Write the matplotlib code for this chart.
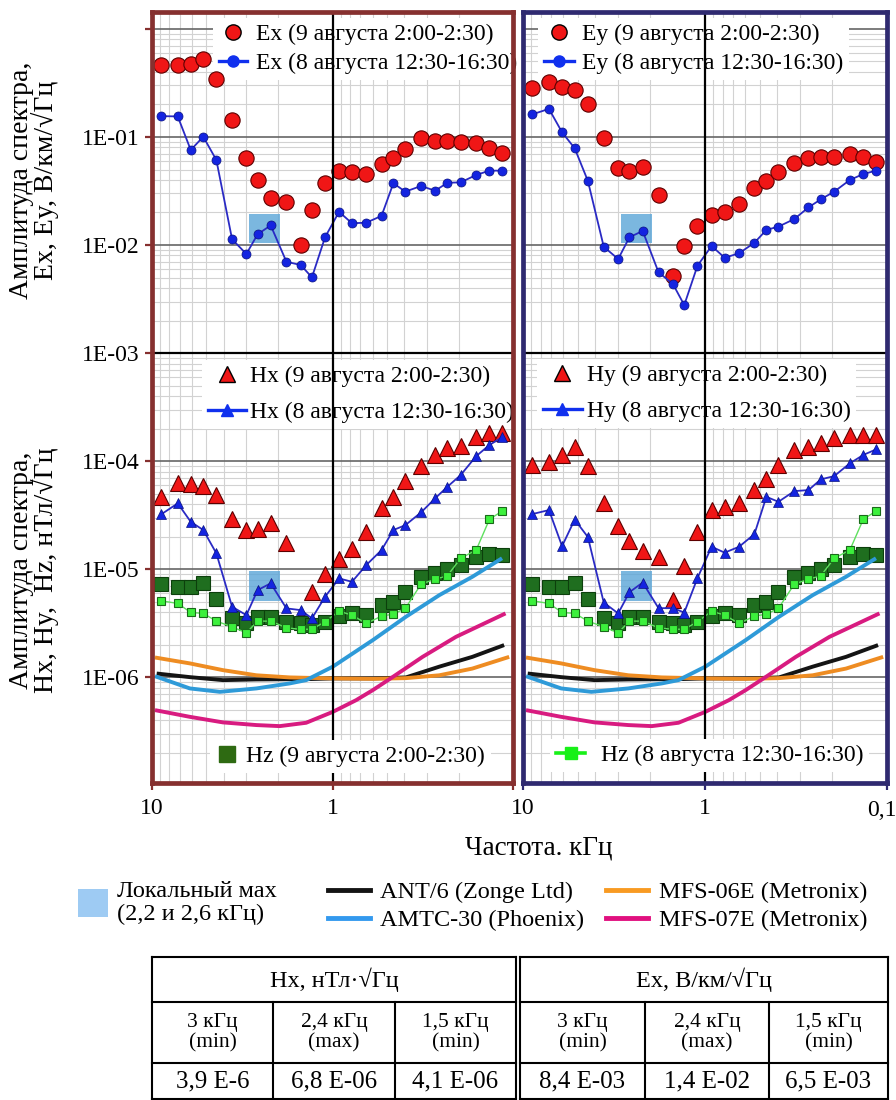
import matplotlib
matplotlib.use('Agg')
import matplotlib.pyplot as plt
import numpy as np
from matplotlib.lines import Line2D
from matplotlib.patches import Patch, Rectangle
from matplotlib.ticker import FixedLocator, FixedFormatter, LogLocator, NullFormatter

plt.rcParams['font.family'] = ['Liberation Serif', 'DejaVu Serif']

W, H = 896, 1100

#-------- data (frequency in kHz, amplitudes) --------#
freq = [8.9, 7.2, 6.1, 5.2, 4.4, 3.6, 3.0, 2.6, 2.2, 1.8, 1.5, 1.3, 1.1,
        0.92, 0.78, 0.65, 0.535, 0.46, 0.395, 0.323, 0.27, 0.231, 0.195,
        0.16, 0.135, 0.115]

ex_night = [0.464, 0.46, 0.476, 0.53, 0.344, 0.144, 0.0635, 0.040, 0.0274,
            0.0252, 0.0101, 0.0211, 0.0377, 0.0484, 0.0471, 0.0454, 0.0559,
            0.0635, 0.0769, 0.0973, 0.0924, 0.0924, 0.0905, 0.0874, 0.0796, 0.0706]
ex_day = [0.156, 0.155, 0.0758, 0.1006, 0.0612, 0.0113, 0.00826, 0.01257,
          0.0152, 0.0070, 0.00653, 0.00502, 0.01178, 0.0203, 0.0159, 0.0161,
          0.0186, 0.0373, 0.0312, 0.0352, 0.0318, 0.0377, 0.038, 0.0445, 0.0488, 0.0488]
ey_night = [0.283, 0.325, 0.289, 0.272, 0.201, 0.0973, 0.0513, 0.0488, 0.0531,
            0.0290, 0.00516, 0.00986, 0.0151, 0.0190, 0.0203, 0.0240, 0.0335,
            0.0392, 0.0477, 0.0571, 0.0635, 0.0657, 0.0657, 0.0691, 0.0657, 0.0583]
ey_day = [0.162, 0.182, 0.1105, 0.0786, 0.0392, 0.00964, 0.00742, 0.0118,
          0.0135, 0.00559, 0.00435, 0.00278, 0.00643, 0.0098, 0.00763, 0.00838,
          0.0105, 0.0138, 0.0148, 0.0174, 0.0223, 0.0265, 0.0312, 0.040, 0.0454, 0.0488]

hx_night = [4.67e-5, 6.30e-5, 6.12e-5, 5.87e-5, 4.84e-5, 2.88e-5, 2.30e-5, 2.33e-5,
            2.68e-5, 1.73e-5, 3.62e-6, 6.16e-6, 9.0e-6, 1.23e-5, 1.52e-5, 2.22e-5,
            3.65e-5, 4.67e-5, 6.53e-5, 8.99e-5, 1.13e-4, 1.31e-4, 1.38e-4, 1.68e-4,
            1.80e-4, 1.83e-4]
hx_day = [3.21e-5, 4.06e-5, 2.74e-5, 2.30e-5, 1.40e-5, 4.48e-6, 3.75e-6, 6.39e-6,
          7.38e-6, 4.33e-6, 4.17e-6, 3.50e-6, 5.54e-6, 8.20e-6, 7.63e-6, 1.09e-5,
          1.50e-5, 2.30e-5, 2.55e-5, 3.35e-5, 4.52e-5, 5.78e-5, 7.42e-5, 1.11e-4,
          1.41e-4, 1.66e-4]
hy_night = [9.18e-5, 9.73e-5, 1.14e-4, 1.36e-4, 8.99e-5, 4.06e-5, 2.52e-5, 1.82e-5,
            1.47e-5, 1.30e-5, 5.16e-6, 1.07e-5, 2.22e-5, 3.52e-5, 3.78e-5, 4.06e-5,
            5.39e-5, 6.77e-5, 9.18e-5, 1.26e-4, 1.36e-4, 1.48e-4, 1.62e-4, 1.74e-4,
            1.74e-4, 1.74e-4]
hy_day = [3.23e-5, 3.52e-5, 1.63e-5, 2.87e-5, 1.98e-5, 4.90e-6, 3.89e-6, 6.12e-6,
          7.50e-6, 4.35e-6, 4.35e-6, 3.96e-6, 8.26e-6, 1.61e-5, 1.42e-5, 1.61e-5,
          2.11e-5, 4.67e-5, 4.20e-5, 5.27e-5, 5.39e-5, 6.77e-5, 7.26e-5, 9.53e-5,
          1.14e-4, 1.28e-4]
hz_night = [7.22e-6, 6.86e-6, 6.86e-6, 7.47e-6, 5.27e-6, 3.50e-6, 3.14e-6, 3.62e-6,
            3.62e-6, 3.25e-6, 3.14e-6, 3.03e-6, 3.25e-6, 3.70e-6, 3.89e-6, 3.72e-6,
            4.64e-6, 4.98e-6, 6.12e-6, 8.49e-6, 9.18e-6, 1.01e-5, 1.09e-5, 1.30e-5,
            1.37e-5, 1.35e-5]
hz_day = [5.09e-6, 4.81e-6, 3.97e-6, 3.89e-6, 3.30e-6, 2.92e-6, 2.57e-6, 3.30e-6,
          3.30e-6, 2.86e-6, 2.77e-6, 2.78e-6, 3.25e-6, 4.08e-6, 3.75e-6, 3.14e-6,
          3.67e-6, 3.83e-6, 4.33e-6, 7.26e-6, 8.08e-6, 8.67e-6, 1.26e-5, 1.50e-5,
          2.89e-5, 3.44e-5]

# sensor self-noise curves
ant6_f = [9.42, 6.17, 4.04, 2.64, 1.40, 0.996, 0.598, 0.392, 0.256, 0.168, 0.112]
ant6_v = [1.08e-6, 1.0e-6, 0.938e-6, 0.952e-6, 0.958e-6, 0.973e-6, 0.973e-6,
          0.994e-6, 1.25e-6, 1.54e-6, 1.98e-6]
amtc_f = [9.63, 6.17, 4.21, 2.64, 1.73, 1.40, 0.996, 0.598, 0.392, 0.256, 0.168, 0.115]
amtc_v = [1.02e-6, 0.786e-6, 0.731e-6, 0.786e-6, 0.874e-6, 0.938e-6, 1.25e-6,
          2.20e-6, 3.62e-6, 5.74e-6, 8.49e-6, 1.26e-5]
mfs06_f = [9.63, 6.17, 4.04, 2.64, 1.73, 0.996, 0.598, 0.392, 0.256, 0.168, 0.105]
mfs06_v = [1.52e-6, 1.34e-6, 1.16e-6, 1.04e-6, 0.994e-6, 0.973e-6, 0.964e-6,
           0.979e-6, 1.04e-6, 1.20e-6, 1.54e-6]
mfs07_f = [9.63, 6.17, 4.04, 2.64, 1.96, 1.40, 0.996, 0.740, 0.598, 0.465, 0.317, 0.207, 0.110]
mfs07_v = [0.495e-6, 0.429e-6, 0.381e-6, 0.360e-6, 0.352e-6, 0.378e-6, 0.477e-6,
           0.612e-6, 0.758e-6, 1.0e-6, 1.54e-6, 2.36e-6, 3.89e-6]

# local maximum box (kHz, amplitude)
box_f = (1.95, 2.9)
box_e = (0.0104, 0.0194)
box_h = (5.1e-6, 9.6e-6)

y_ticks = [1e-7, 1e-6, 1e-5, 1e-4, 1e-3, 1e-2, 1e-1, 1e0]
y_labels = ['', '1E-06', '1E-05', '1E-04', '1E-03', '1E-02', '1E-01', '']
x_ticks = [10, 1, 0.1]

tab_head = ['Hx, нТл·√Гц', 'Ex, В/км/√Гц']
tab_freq = ['3 кГц\n(min)', '2,4 кГц\n(max)', '1,5 кГц\n(min)',
            '3 кГц\n(min)', '2,4 кГц\n(max)', '1,5 кГц\n(min)']
tab_vals = ['3,9 E-6', '6,8 E-06', '4,1 E-06', '8,4 E-03', '1,4 E-02', '6,5 E-03']

#-------- styles --------#
RED, RED_E = '#f01616', '#5c0000'
BLUE_L, BLUE_M, BLUE_E = '#2a2ac4', '#1424e0', '#0a1280'
DKG, DKG_E = '#1f6e1f', '#0c3f0c'
LTG, LTG_E, LTG_L = '#3cf03c', '#1a6a1a', '#5ee05e'
C_ANT, C_AMTC, C_06, C_07 = '#141414', '#2e9ad8', '#ee8c22', '#d81b80'
BOX_C = '#5aa5d8'
FS = 17


def fx(x):
    return x / W


def fy(y):
    return 1 - y / H


fig = plt.figure(figsize=(W / 100, H / 100), dpi=100)
axL = fig.add_axes([fx(152), fy(783), (513 - 152) / W, (783 - 12) / H])
axR = fig.add_axes([fx(523), fy(783), (887 - 523) / W, (783 - 12) / H])


def base(ax, edge, xlabels, show_y):
    ax.set_xscale('log')
    ax.set_yscale('log')
    ax.set_xlim(10, 0.1)
    ax.set_ylim(10 ** -6.98, 10 ** 0.157)
    ax.xaxis.set_major_locator(FixedLocator(x_ticks))
    ax.xaxis.set_major_formatter(FixedFormatter(xlabels))
    ax.xaxis.set_minor_locator(LogLocator(base=10, subs=np.arange(2, 10), numticks=20))
    ax.xaxis.set_minor_formatter(NullFormatter())
    ax.yaxis.set_major_locator(FixedLocator(y_ticks))
    ax.yaxis.set_major_formatter(FixedFormatter(y_labels))
    ax.yaxis.set_minor_locator(LogLocator(base=10, subs=np.arange(2, 10), numticks=20))
    ax.yaxis.set_minor_formatter(NullFormatter())
    ax.grid(which='minor', color='#d2d2d2', lw=0.8)
    ax.grid(which='major', color='#666666', lw=1.2)
    ax.set_axisbelow(True)
    ax.tick_params(which='minor', length=0)
    ax.tick_params(axis='x', which='major', length=5, width=1.6, color=edge,
                   labelsize=FS, pad=6)
    if show_y:
        ax.tick_params(axis='y', which='major', length=5, width=1.6, color=edge,
                       labelsize=FS, pad=4)
    else:
        ax.tick_params(axis='y', which='major', length=0, labelleft=False)
    for s in ax.spines.values():
        s.set_color(edge)
        s.set_linewidth(3.4)
        s.set_zorder(6)
    ax.axvline(1, color='black', lw=1.6, zorder=4.5)
    ax.axhline(1e-3, color='black', lw=1.6, zorder=2)


def box(ax, lims):
    ax.add_patch(Rectangle((box_f[0], lims[0]), box_f[1] - box_f[0], lims[1] - lims[0],
                           facecolor=BOX_C, edgecolor='none', alpha=0.8, zorder=2.5))


def panel(ax, e_night, e_day, h_night, h_day):
    box(ax, box_e)
    box(ax, box_h)
    ax.plot(freq, e_night, ls='none', marker='o', ms=11, mfc=RED, mec=RED_E, mew=0.8, zorder=3)
    ax.plot(freq, e_day, color=BLUE_L, lw=1.3, marker='o', ms=6.5, mfc=BLUE_M,
            mec=BLUE_E, mew=0.5, zorder=3.4)
    ax.plot(freq, h_night, ls='none', marker='^', ms=11, mfc=RED, mec=RED_E, mew=0.8, zorder=3)
    ax.plot(freq, hz_night, ls='none', marker='s', ms=10.5, mfc=DKG, mec=DKG_E, mew=0.8, zorder=3.1)
    ax.plot(freq, hz_day, color=LTG_L, lw=1.0, marker='s', ms=6, mfc=LTG, mec=LTG_E,
            mew=0.8, zorder=3.2)
    ax.plot(ant6_f, ant6_v, color=C_ANT, lw=2.8, zorder=3.3, solid_capstyle='butt')
    ax.plot(mfs06_f, mfs06_v, color=C_06, lw=2.8, zorder=3.3, solid_capstyle='butt')
    ax.plot(amtc_f, amtc_v, color=C_AMTC, lw=2.8, zorder=3.3, solid_capstyle='butt')
    ax.plot(mfs07_f, mfs07_v, color=C_07, lw=2.8, zorder=3.3, solid_capstyle='butt')
    ax.plot(freq, h_day, color=BLUE_L, lw=1.3, marker='^', ms=7, mfc=BLUE_M,
            mec=BLUE_E, mew=0.5, zorder=3.4)


def panel_legend(ax, handles, labels, x, y, hl, pad, sp, z=2.9):
    leg = ax.legend(handles, labels, loc='upper left', bbox_to_anchor=(fx(x), fy(y)),
                    bbox_transform=fig.transFigure, frameon=True, fancybox=False,
                    facecolor='white', edgecolor='none', framealpha=1, fontsize=FS,
                    handlelength=hl, handletextpad=pad, labelspacing=sp,
                    borderpad=0.25, borderaxespad=0, numpoints=1)
    leg.set_zorder(z)
    ax.add_artist(leg)


base(axL, '#86302f', ['10', '1', ''], True)
base(axR, '#2f2a70', ['10', '1', ''], False)
panel(axL, ex_night, ex_day, hx_night, hx_day)
panel(axR, ey_night, ey_day, hy_night, hy_day)

h_circ = Line2D([], [], ls='none', marker='o', ms=11, mfc=RED, mec='black', mew=1)
h_bcirc = Line2D([], [], color='#1030ee', lw=2.4, marker='o', ms=8, mfc='#1030ee', mec='#1030ee')
h_tri = Line2D([], [], ls='none', marker='^', ms=11, mfc=RED, mec='black', mew=1)
h_btri = Line2D([], [], color='#1030ee', lw=2.4, marker='^', ms=8, mfc='#1030ee', mec='#1030ee')
h_dkg = Line2D([], [], ls='none', marker='s', ms=12, mfc='#2e6a12', mec='#2e6a12')
h_ltg = Line2D([], [], color='#18f018', lw=2.6, marker='s', ms=8, mfc='#18f018', mec='#18f018')

panel_legend(axL, [h_circ, h_bcirc], ['Ex (9 августа 2:00-2:30)', 'Ex (8 августа 12:30-16:30)'],
             213, 18, 1.19, 0.38, 0.3)
panel_legend(axR, [h_circ, h_bcirc], ['Ey (9 августа 2:00-2:30)', 'Ey (8 августа 12:30-16:30)'],
             538, 18, 1.27, 0.34, 0.3)
panel_legend(axL, [h_tri, h_btri], ['Hx (9 августа 2:00-2:30)', 'Hx (8 августа 12:30-16:30)'],
             202, 360, 1.61, 0.17, 0.6)
panel_legend(axR, [h_tri, h_btri], ['Hy (9 августа 2:00-2:30)', 'Hy (8 августа 12:30-16:30)'],
             537, 359, 1.65, 0.2, 0.6)
panel_legend(axL, [h_dkg], ['Hz (9 августа 2:00-2:30)'], 210, 740, 0.93, 0.34, 0.2, z=6)
panel_legend(axR, [h_ltg], ['Hz (8 августа 12:30-16:30)'], 550, 739, 1.24, 0.66, 0.2, z=6)

#-------- figure-level legends --------#
FS_B = 17.5
leg_box = fig.legend([Patch(facecolor='#9ecbf3', edgecolor='none')], ['Локальный мах\n(2,2 и 2,6 кГц)'],
                     loc='upper left', bbox_to_anchor=(fx(78), fy(881)), frameon=False, fontsize=FS_B,
                     handlelength=1.23, handleheight=1.36, handletextpad=0.37, borderpad=0,
                     borderaxespad=0)
leg_box.get_texts()[0].set_linespacing(1.1)
sensor_handles = [Line2D([], [], color=c, lw=3.5) for c in (C_ANT, '#3399ee', '#f89a22', '#e0107f')]
fig.legend(sensor_handles, ['ANT/6 (Zonge Ltd)', 'AMTC-30 (Phoenix)',
                            'MFS-06E (Metronix)', 'MFS-07E (Metronix)'],
           loc='upper left', bbox_to_anchor=(fx(328), fy(881)), frameon=False, fontsize=FS_B,
           ncol=2, handlelength=1.73, handletextpad=0.42, labelspacing=0.25,
           columnspacing=0.9, borderpad=0, borderaxespad=0)

#-------- overlay for axis titles and the table --------#
ov = fig.add_axes([0, 0, 1, 1])
ov.set_xlim(0, W)
ov.set_ylim(H, 0)
ov.axis('off')

ov.text(882, 811, '0,1', ha='center', va='center', fontsize=FS)
ov.text(34, 180, 'Амплитуда спектра,\nEx, Ey, В/км/√Гц', rotation=90, ha='center',
        va='center', fontsize=20, linespacing=0.9)
ov.text(34, 570, 'Амплитуда спектра,\nHx, Hy,  Hz, нТл/√Гц', rotation=90, ha='center',
        va='center', fontsize=20, linespacing=0.9)
ov.text(539, 848, 'Частота. кГц', ha='center', va='center', fontsize=19.5)

col_x = [152, 273, 395, 516, 520, 645, 769, 888]
row_y = [957, 1002, 1063, 1099]
lw_t = 1.5
for y in row_y:
    ov.plot([col_x[0], col_x[3]], [y, y], color='black', lw=lw_t)
    ov.plot([col_x[4], col_x[7]], [y, y], color='black', lw=lw_t)
for x in (col_x[0], col_x[3], col_x[4], col_x[7]):
    ov.plot([x, x], [row_y[0], row_y[3]], color='black', lw=lw_t)
for x in (col_x[1], col_x[2], col_x[5], col_x[6]):
    ov.plot([x, x], [row_y[1], row_y[3]], color='black', lw=lw_t)

ov.text((col_x[0] + col_x[3]) / 2, (row_y[0] + row_y[1]) / 2, tab_head[0],
        ha='center', va='center', fontsize=17.5)
ov.text((col_x[4] + col_x[7]) / 2, (row_y[0] + row_y[1]) / 2, tab_head[1],
        ha='center', va='center', fontsize=17.5)
cells = [(col_x[0], col_x[1]), (col_x[1], col_x[2]), (col_x[2], col_x[3]),
         (col_x[4], col_x[5]), (col_x[5], col_x[6]), (col_x[6], col_x[7])]
for (a, b), t1, t2 in zip(cells, tab_freq, tab_vals):
    ov.text((a + b) / 2, (row_y[1] + row_y[2]) / 2, t1, ha='center', va='center',
            fontsize=15.5, linespacing=1.1)
    ov.text((a + b) / 2, (row_y[2] + row_y[3]) / 2, t2, ha='center', va='center',
            fontsize=18)

fig.savefig('out.png', dpi=100)
